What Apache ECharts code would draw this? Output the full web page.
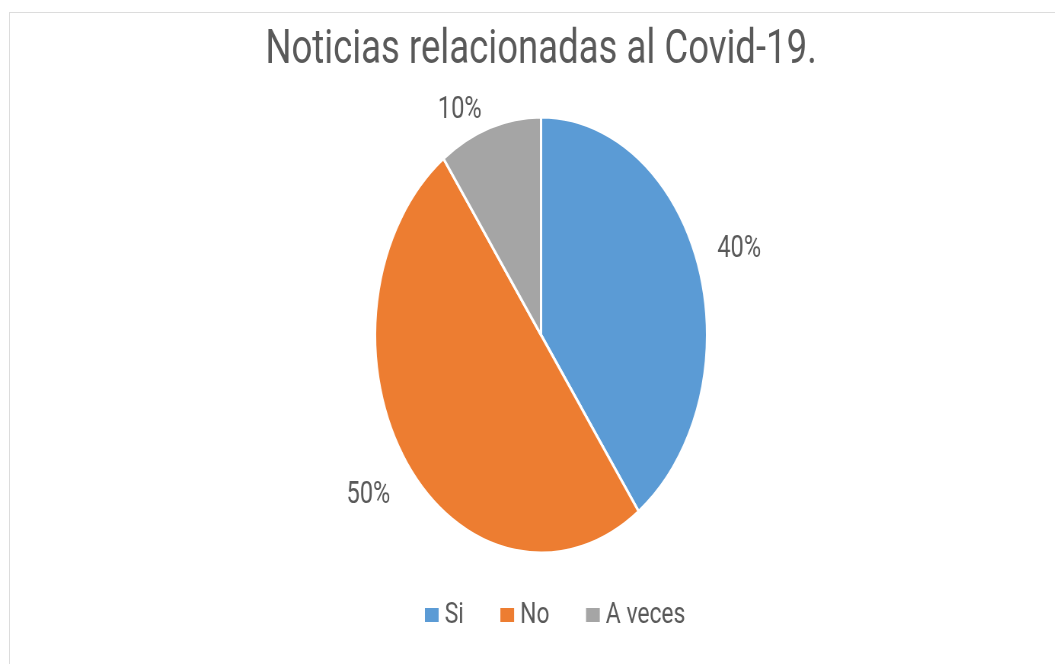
<!DOCTYPE html>
<html>
<head>
<meta charset="utf-8">
<script src="https://cdn.jsdelivr.net/npm/echarts@6/dist/echarts.min.js"></script>
<style>
  html, body { margin: 0; padding: 0; background: #ffffff; overflow: hidden; }
  body { width: 1055px; height: 664px; position: relative; }
  .frame {
    position: absolute; left: 9px; top: 12px; width: 1100px; height: 700px;
    border: 1px solid #dcdcdc; box-sizing: border-box;
  }
  /* the chart is laid out wide and compressed horizontally, giving the oval pie */
  #chart {
    position: absolute; left: 0; top: 0;
    width: 1421px; height: 664px;
    transform: scaleX(0.7615); transform-origin: 0 0;
  }
</style>
</head>
<body>
<div class="frame"></div>
<div id="chart"></div>
<script>
const titleText = 'Noticias relacionadas al Covid-19.';
const categories = ['Si', 'No', 'A veces'];
const percentages = [40, 50, 10];
const sliceColors = ['#5B9BD5', '#ED7D31', '#A5A5A5'];

// nudges that place each percentage label where the best-fit layout puts it
const labelNudges = [[2, -13], [-2, 22], [0, 0]];

const chart = echarts.init(document.getElementById('chart'), null, { renderer: 'canvas' });

const seriesData = categories.map((name, i) => ({
  name: name,
  value: percentages[i],
  itemStyle: { color: sliceColors[i] },
  label: { offset: labelNudges[i] }
}));

chart.setOption({
  animation: false,
  backgroundColor: 'transparent',
  title: {
    text: titleText,
    left: 'center',
    top: 22,
    textStyle: {
      fontFamily: 'Roboto',
      fontSize: 48,
      fontWeight: 'normal',
      color: '#595959'
    }
  },
  legend: {
    data: categories,
    left: 551,
    top: 595,
    itemWidth: 20,
    itemHeight: 16,
    itemGap: 46,
    icon: 'rect',
    textStyle: {
      fontFamily: 'Roboto',
      fontSize: 30,
      color: '#595959',
      padding: [0, 0, 0, 2]
    }
  },
  series: [{
    type: 'pie',
    center: ['50%', 335],
    radius: 218,
    startAngle: 90,
    clockwise: true,
    data: seriesData,
    itemStyle: { borderColor: '#ffffff', borderWidth: 3 },
    label: {
      show: true,
      position: 'outside',
      formatter: '{d}%',
      fontFamily: 'Roboto',
      fontSize: 31,
      color: '#595959'
    },
    labelLine: { show: false, length: 18, length2: 0 },
    emphasis: { disabled: true }
  }]
});
</script>
</body>
</html>
